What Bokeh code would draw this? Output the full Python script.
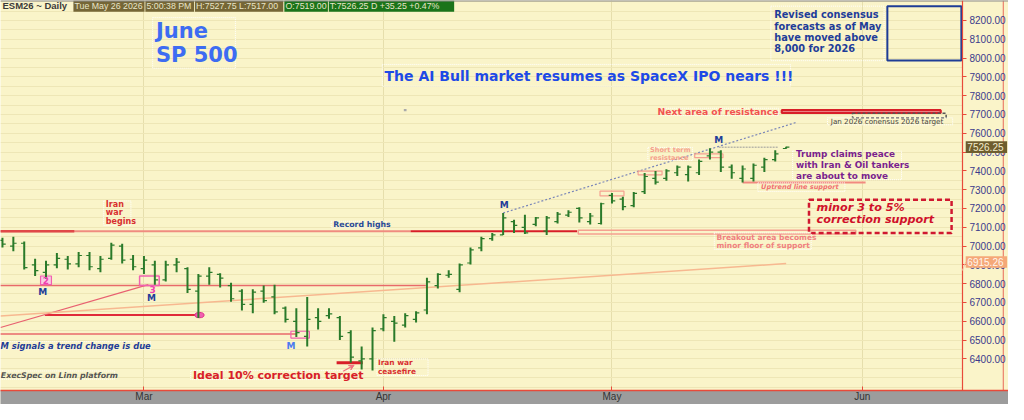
from bokeh.plotting import figure
from bokeh.models import Range1d, FixedTicker, NumeralTickFormatter, Arrow, VeeHead
from bokeh.core.properties import value
from bokeh.embed import file_html
from bokeh.resources import INLINE

# ---------------- data (ESM26 daily bars, index 0 = Feb 10 2026) ----------------
highs = [7044, 7049, 7024, 6932, 6922, 6963, 6947, 6968, 6968, 6947,
         7018, 7013, 6953, 6947, 6922, 6922, 6937, 6887, 6851, 6887,
         6856, 6805, 6770, 6770, 6790, 6795, 6679, 6669, 6729, 6669,
         6669, 6628, 6552, 6466, 6567, 6638, 6628, 6643, 6653, 6831,
         6856, 6871, 6907, 6993, 7049, 7069, 7176, 7140, 7166, 7155,
         7160, 7181, 7191, 7206, 7176, 7231, 7282, 7262, 7287, 7389,
         7399, 7409, 7429, 7429, 7460, 7520, 7510, 7434, 7429, 7439,
         7470, 7510, 7527.75]
lows = [6993, 6973, 6876, 6841, 6826, 6882, 6876, 6887, 6871, 6861,
        6927, 6907, 6871, 6851, 6795, 6811, 6861, 6750, 6618, 6795,
        6780, 6704, 6658, 6643, 6699, 6638, 6593, 6516, 6466, 6557,
        6613, 6501, 6380, 6344, 6339, 6547, 6491, 6567, 6593, 6638,
        6775, 6831, 6755, 6902, 6973, 7029, 7059, 7069, 7064, 7105,
        7059, 7120, 7155, 7125, 7115, 7115, 7226, 7191, 7206, 7277,
        7328, 7348, 7373, 7343, 7378, 7460, 7394, 7358, 7338, 7343,
        7394, 7450, 7517.0]
opens = [7030, 7000, 7015, 6900, 6860, 6900, 6930, 6905, 6950, 6880,
         6935, 7000, 6930, 6880, 6900, 6820, 6900, 6880, 6760, 6840,
         6850, 6790, 6760, 6690, 6760, 6730, 6670, 6600, 6520, 6620,
         6630, 6620, 6540, 6390, 6400, 6560, 6600, 6580, 6610, 6660,
         6790, 6845, 6770, 6910, 6990, 7040, 7060, 7130, 7100, 7115,
         7080, 7130, 7165, 7200, 7130, 7120, 7270, 7250, 7215, 7290,
         7360, 7360, 7390, 7380, 7390, 7480, 7500, 7420, 7360, 7360,
         7420, 7460, 7519.0]
closes = [7010, 7015, 6885, 6870, 6900, 6935, 6905, 6950, 6890, 6930,
          7005, 6925, 6890, 6925, 6820, 6900, 6915, 6770, 6840, 6860,
          6830, 6720, 6690, 6755, 6710, 6650, 6610, 6540, 6610, 6600,
          6640, 6520, 6410, 6400, 6550, 6620, 6590, 6630, 6645, 6810,
          6850, 6850, 6900, 6980, 7040, 7060, 7150, 7110, 7070, 7150,
          7150, 7170, 7180, 7150, 7160, 7225, 7240, 7210, 7280, 7370,
          7340, 7400, 7420, 7420, 7450, 7500, 7420, 7390, 7410, 7430,
          7460, 7490, 7526.25]
bar_index = list(range(len(highs)))

month_ticks = [13, 35, 56, 79]
month_labels = ["Mar", "Apr", "May", "Jun"]
price_ticks = [6400, 6500, 6600, 6700, 6800, 6900, 7000, 7100, 7200,
               7300, 7400, 7500, 7600, 7700, 7800, 7900, 8000, 8100, 8200]
grid_ticks = [6250 + 50 * i for i in range(42)]

last_price = 7526.25
trend_price = 6915.26

BG = "#FAF4C9"
GRID = "#EEE6B6"
FONT = "DejaVu Sans"
HFONT = "Liberation Sans"

AXIS_X = 88.2      # price axis sits at the right end of the bar area
X_END = 92.43      # frame continues under the price scale
Y0, Y1 = 6232, 8306

p = figure(width=1008, height=404,
           x_range=Range1d(-0.18, X_END), y_range=Range1d(Y0, Y1),
           y_axis_location="right", toolbar_location=None, output_backend="svg",
           min_border_left=0, min_border_top=0, min_border_bottom=0, min_border_right=0,
           background_fill_color=BG, border_fill_color=BG, outline_line_color=None)

p.ygrid.ticker = FixedTicker(ticks=grid_ticks)
p.ygrid.grid_line_color = GRID
p.ygrid.grid_line_width = 1
p.xgrid.ticker = FixedTicker(ticks=month_ticks)
p.xgrid.grid_line_color = "#E6DEAC"

ya = p.yaxis[0]
ya.fixed_location = AXIS_X
ya.ticker = FixedTicker(ticks=price_ticks)
ya.formatter = NumeralTickFormatter(format="0.00")
ya.axis_line_color = "#E84A3A"
ya.axis_line_width = 1.2
ya.major_tick_line_color = "#E84A3A"
ya.major_tick_in = 0
ya.major_tick_out = 4
ya.minor_tick_line_color = None
ya.major_label_text_color = "#3A3A8C"
ya.major_label_text_font = HFONT
ya.major_label_text_font_size = "10px"
ya.major_label_standoff = 3

xa = p.xaxis[0]
xa.ticker = FixedTicker(ticks=month_ticks)
xa.major_label_overrides = {t: l for t, l in zip(month_ticks, month_labels)}
xa.axis_line_color = "#E84A3A"
xa.axis_line_width = 1.5
xa.major_tick_line_color = "#E84A3A"
xa.major_tick_in = 4
xa.major_tick_out = 0
xa.minor_tick_line_color = None
xa.major_label_text_color = "#333333"
xa.major_label_text_font = HFONT
xa.major_label_text_font_size = "10px"
xa.major_label_text_align = "left"
xa.major_label_standoff = 0
xa.background_fill_color = "#9C9C9C"


def txt(x, y, s, size, color, style="bold", align="left", font=FONT, baseline="middle", level="glyph"):
    p.text(x=[x], y=[y], text=[s], text_font=value(font), text_font_size=size,
           text_font_style=style, text_color=color, text_align=align,
           text_baseline=baseline, level=level)


def box(l, r, b, t, color, width=1, dash="solid", fill=None, alpha=1.0):
    p.quad(left=[l], right=[r], bottom=[b], top=[t], line_color=color,
           line_width=width, line_dash=dash, fill_color=fill,
           fill_alpha=(1.0 if fill else 0.0), line_alpha=alpha)


# price-scale area: plain background, no grid, right border
p.quad(left=[AXIS_X], right=[X_END], bottom=[Y0], top=[Y1], fill_color=BG, line_color=None)
p.segment(x0=[91.95], y0=[Y0], x1=[91.95], y1=[Y1], line_color="#E86A5A", line_width=1)

# ---------------- support / resistance lines ----------------
p.segment(x0=[-0.2], y0=[7079], x1=[37.5], y1=[7079], line_color="#F08C80", line_width=2)
p.segment(x0=[-0.2], y0=[7079], x1=[6.6], y1=[7079], line_color="#E04848", line_width=2.5)
p.segment(x0=[37.5], y0=[7079], x1=[52.8], y1=[7079], line_color="#D81E28", line_width=2)
box(52.9, 78.4, 7064, 7084, "#F5A090", width=1.5)

p.segment(x0=[-0.2], y0=[6790], x1=[38.9], y1=[6790], line_color="#E86A6A", line_width=1.5)
p.segment(x0=[-0.2], y0=[6532], x1=[27.0], y1=[6532], line_color="#E86A6A", line_width=1.5)
p.segment(x0=[3.9], y0=[6633], x1=[17.9], y1=[6633], line_color="#E02A3A", line_width=2)
p.ellipse(x=[18.1], y=[6633], width=0.85, height=28, fill_color="#F060B0",
          line_color="#E0308A")

p.segment(x0=[-0.18], y0=[6567], x1=[13.4], y1=[6795], line_color="#E86070", line_width=1.2)
p.segment(x0=[-0.18], y0=[6628], x1=[72.0], y1=[6907], line_color="#F7B890", line_width=1.5)
p.segment(x0=[46], y0=[7176], x1=[72.9], y1=[7657], line_color="#7A86B8",
          line_width=1.2, line_dash="2 2")
p.segment(x0=[65.8], y0=[7526], x1=[71.3], y1=[7526], line_color="#999999",
          line_width=1, line_dash="2 1")

p.segment(x0=[68.0], y0=[7338], x1=[79.3], y1=[7338], line_color="#F28A80", line_width=2)

box(54.9, 57.1, 7267, 7292, "#F5A090", width=1.2)
box(58.4, 60.6, 7379, 7399, "#F5A090", width=1.2)
box(63.6, 66.2, 7470, 7490, "#F5A090", width=1.2)

box(3.5, 4.5, 6795, 6841, "#F060B0", width=1.2, fill="#F8CDE2")
box(12.6, 14.4, 6790, 6841, "#F060B0", width=1.5)
box(26.5, 28.2, 6511, 6547, "#F060B0", width=1.2)

p.segment(x0=[30.7], y0=[6380], x1=[33.1], y1=[6380], line_color="#D81E28", line_width=3)
p.add_layout(Arrow(end=VeeHead(size=5, line_color="#F07080", fill_color="#F07080"),
                   x_start=31.3, y_start=6334, x_end=32.3, y_end=6366,
                   line_color="#F07080", line_width=1.2))

box(71.6, 86.2, 7708, 7723, "#D81E28", width=2.2, fill="#FBE4DC")
box(78.1, 86.7, 7683, 7706, "#555555", width=1.5, dash="3 2")
box(81.3, 88.1, 7987, 8276, "#1E3C96", width=2)
box(74.1, 87.2, 7069, 7247, "#D01830", width=2.5, dash="5 3")

for l, r, b, t in [(13.8, 21.4, 7946, 8215), (34.9, 72.4, 7850, 7966),
                   (70.6, 81.0, 7986, 8276), (59.3, 63.4, 7455, 7525),
                   (72.6, 82.6, 7353, 7505), (69.4, 77.4, 7290, 7336),
                   (65.4, 74.3, 6982, 7070), (30.2, 35.3, 7098, 7132),
                   (9.3, 11.8, 7110, 7240), (-0.2, 13.6, 6450, 6492),
                   (-0.2, 10.3, 6292, 6336), (17.3, 32.8, 6290, 6338),
                   (34.4, 39.1, 6312, 6400), (75.8, 87.3, 7645, 7682),
                   (60.4, 71.3, 7695, 7733)]:
    box(l, r, b, t, "#FFFFFF", width=1, dash="1 1")

# ---------------- price bars ----------------
p.segment(x0=bar_index, y0=lows, x1=bar_index, y1=highs, line_color="#2A7A2A", line_width=2)
p.segment(x0=[i - 0.3 for i in bar_index], y0=opens, x1=bar_index, y1=opens,
          line_color="#2A7A2A", line_width=1.2)
p.segment(x0=bar_index, y0=closes, x1=[i + 0.3 for i in bar_index], y1=closes,
          line_color="#2A7A2A", line_width=1.2)

p.rect(x=[37.0], y=[7723], width=0.25, height=12, fill_color="#AAAAAA", line_color=None)

# ---------------- header ----------------
hb, ht = 8246, 8306
txt(0.0, 8277, "ESM26 ~ Daily", "9.5px", "#3A3A3A", font=HFONT)
header = [(6.52, 13.05, "Tue May 26 2026", "#756636"),
          (13.13, 17.6, "5:00:38 PM", "#756636"),
          (17.68, 25.8, "H:7527.75  L:7517.00", "#756636"),
          (25.9, 29.9, "O:7519.00", "#1A741A"),
          (29.98, 41.5, "T:7526.25 D  +35.25  +0.47%", "#1A741A")]
for l, r, s, c in header:
    p.quad(left=[l], right=[r], bottom=[hb], top=[ht], fill_color=c, line_color=None)
    txt(l + 0.1, 8277, s, "8.8px", "#E8E4C8", style="normal", font=HFONT)
p.segment(x0=[-0.2], y0=[8305], x1=[X_END], y1=[8305], line_color="#8A8A8A", line_width=1.5)

# ---------------- text annotations ----------------
txt(14.1, 8144, "June", "21px", "#3D6CF2")
txt(14.1, 8017, "SP 500", "21px", "#3D6CF2")
txt(35.1, 7906, "The AI Bull market resumes as SpaceX IPO nears !!!", "14px", "#1E4AE6")
for yy, s in zip([8230, 8170, 8111, 8051],
                 ["Revised consensus", "forecasts as of May", "have moved above", "8,000 for 2026"]):
    txt(70.9, yy, s, "9.8px", "#1F3D99")
txt(71.3, 7714, "Next area of resistance", "9.2px", "#F25252", align="right")
txt(76.1, 7662, "Jan 2026 conensus 2026 target", "7.2px", "#444444", style="normal")
txt(59.5, 7509, "Short term", "6.6px", "#F5A08C")
txt(59.5, 7469, "resistance", "6.6px", "#F5A08C")
for yy, s in zip([7488, 7432, 7372],
                 ["Trump claims peace", "with Iran & Oil tankers", "are about to move"]):
    txt(72.9, yy, s, "8.9px", "#7A1F8F")
txt(69.7, 7312, "Uptrend line support", "6.6px", "#F07070", style="bold italic")
txt(74.8, 7205, "minor 3 to 5%", "11.2px", "#D0102A", style="bold italic")
txt(74.8, 7139, "correction support", "11.2px", "#D0102A", style="bold italic")
txt(65.6, 7048, "Breakout area becomes", "7.5px", "#F08080")
txt(65.6, 7003, "minor floor of support", "7.5px", "#F08080")
txt(30.4, 7115, "Record highs", "7.8px", "#2A4A9A")
for yy, s in zip([7221, 7176, 7130], ["Iran", "war", "begins"]):
    txt(9.5, yy, s, "8px", "#D83030")
txt(-0.18, 6471, "M signals a trend change is due", "8.4px", "#1F3D99", style="bold italic")
txt(-0.15, 6314, "ExecSpec on Linn platform", "7.8px", "#555555", style="bold italic")
txt(17.5, 6314, "Ideal 10% correction target", "11px", "#D8202A")
txt(34.5, 6380, "Iran war", "7.4px", "#D83030")
txt(34.5, 6334, "ceasefire", "7.4px", "#D83030")
for mx, my, mc in [(65.8, 7566, "#1F3D99"), (46.1, 7216, "#1F3D99"), (3.7, 6755, "#1F3D99"),
                   (13.7, 6724, "#1F3D99"), (26.5, 6471, "#4A7AF0")]:
    txt(mx, my, "M", "9px", mc, align="center")
txt(4.0, 6816, "2", "9px", "#F040B0", align="center")
txt(13.8, 6768, "3", "9px", "#F040B0", align="center")

# ---------------- price flags on the price scale ----------------
p.segment(x0=[AXIS_X], y0=[trend_price - 45], x1=[AXIS_X + 0.3], y1=[trend_price],
          line_color="#F7C8A8", line_width=1, level="overlay")
for val, bg, fg in [(last_price, "#6E5D2E", "#F2ECCC"), (trend_price, "#F5A878", "#FFF6EE")]:
    p.quad(left=[AXIS_X + 0.3], right=[AXIS_X + 4.1], bottom=[val - 31], top=[val + 31],
           fill_color=bg, line_color=None, level="overlay")
    txt(AXIS_X + 0.45, val, f"{val:.2f}", "10px", fg, style="normal", font=HFONT, level="overlay")

open("out.html", "w").write(file_html(p, INLINE))
